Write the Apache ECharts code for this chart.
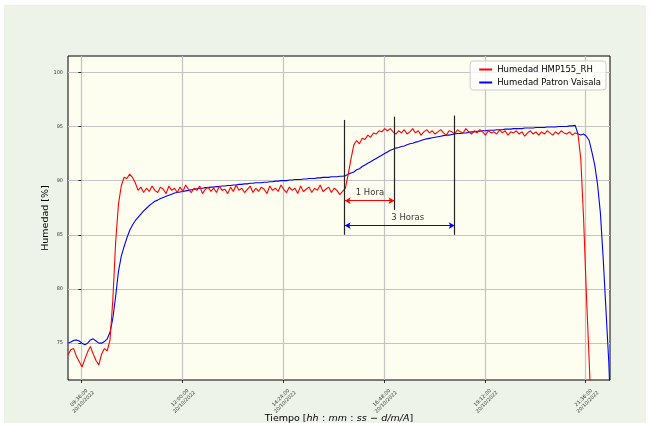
<!DOCTYPE html>
<html>
<head>
<meta charset="utf-8">
<script src="https://cdn.jsdelivr.net/npm/echarts@6/dist/echarts.min.js"></script>
<style>html,body{margin:0;padding:0;background:#ffffff;}#c{width:650px;height:423px;}</style>
</head>
<body>
<div id="c"></div>
<script>
// minutes relative to 09:36:00 (20/10/2022)
const timeMin = [
-19,-15,-11,-7,-3,1,5,9,13,17,
21,25,29,33,37,41,45,49,53,57,
61,65,69,73,77,81,85,89,93,97,
101,105,109,113,117,121,125,129,133,137,
141,145,149,153,157,161,165,169,173,177,
181,185,189,193,197,201,205,209,213,217,
221,225,229,233,237,241,245,249,253,257,
261,265,269,273,277,281,285,289,293,297,
301,305,309,313,317,321,325,329,333,337,
341,345,349,353,357,361,365,369,373,377,
381,385,389,393,397,401,405,409,413,417,
421,425,429,433,437,441,445,449,453,457,
461,465,469,473,477,481,485,489,493,497,
501,505,509,513,517,521,525,529,533,537,
541,545,549,553,557,561,565,569,573,577,
581,585,589,593,597,601,605,609,613,617,
621,625,629,633,637,641,645,649,653,657,
661,665,669,673,677,681,685,689,693,697,
701,705,709,713,717,721,725,729,733,737,
741,745,749,753,757
];
const humHMP = [
73.9,74.4,74.5,73.8,73.3,72.8,73.5,74.2,74.7,74.0,
73.4,73.0,74.0,74.5,74.3,75.3,79.0,84.3,87.8,89.5,
90.3,90.2,90.6,90.3,89.8,89.1,89.4,88.9,89.3,89.0,
89.5,89.1,88.9,89.4,89.2,88.8,89.5,89.1,89.3,88.9,
89.4,89.0,89.6,89.2,88.9,89.3,89.1,89.5,88.8,89.2,
89.4,89.0,89.3,88.9,89.5,89.1,89.2,88.8,89.4,89.0,
89.6,89.1,89.3,88.9,89.2,89.5,88.9,89.3,89.0,89.4,
89.2,88.8,89.5,89.1,89.3,89.0,89.6,89.2,88.9,89.4,
89.1,89.3,88.8,89.5,89.0,89.2,89.4,88.9,89.3,89.1,
89.6,89.0,89.2,89.4,88.9,89.3,89.1,88.7,89.0,89.3,
90.6,92.0,93.3,93.7,93.4,93.9,93.8,94.2,94.0,94.4,
94.3,94.6,94.5,94.8,94.6,94.8,94.5,94.3,94.6,94.4,
94.7,94.3,94.5,94.8,94.4,94.6,94.2,94.5,94.7,94.4,
94.6,94.3,94.5,94.7,94.4,94.2,94.6,94.5,94.3,94.7,
94.5,94.4,94.8,94.5,94.3,94.6,94.4,94.7,94.5,94.2,
94.6,94.4,94.5,94.3,94.7,94.4,94.6,94.2,94.5,94.4,
94.6,94.3,94.5,94.1,94.4,94.6,94.3,94.5,94.2,94.5,
94.3,94.6,94.4,94.2,94.5,94.3,94.6,94.4,94.3,94.5,
94.2,94.4,94.3,92.0,86.5,79.5,73.3,67.0,null,null,
null,null,null,null,null
];
const humVaisala = [
75.0,75.1,75.25,75.3,75.2,75.0,74.85,75.0,75.3,75.4,
75.2,75.0,75.0,75.15,75.4,76.0,77.3,79.3,81.6,83.0,
83.9,84.7,85.4,85.9,86.3,86.6,86.9,87.2,87.45,87.7,
87.9,88.1,88.2,88.35,88.45,88.55,88.65,88.75,88.85,88.9,
88.95,89.0,89.05,89.1,89.15,89.2,89.25,89.3,89.3,89.35,
89.35,89.4,89.4,89.45,89.45,89.5,89.5,89.55,89.55,89.6,
89.6,89.65,89.65,89.7,89.7,89.75,89.75,89.8,89.8,89.8,
89.85,89.85,89.9,89.9,89.95,89.95,90.0,90.0,90.0,90.05,
90.05,90.1,90.1,90.1,90.15,90.15,90.2,90.2,90.2,90.25,
90.25,90.3,90.3,90.3,90.35,90.35,90.35,90.4,90.4,90.45,
90.6,90.7,90.8,91.0,91.1,91.3,91.45,91.6,91.75,91.9,
92.05,92.2,92.35,92.5,92.65,92.8,92.9,93.0,93.05,93.15,
93.2,93.3,93.4,93.45,93.55,93.6,93.7,93.8,93.85,93.9,
93.95,94.0,94.05,94.1,94.15,94.2,94.2,94.25,94.3,94.35,
94.35,94.4,94.4,94.45,94.5,94.5,94.55,94.55,94.6,94.6,
94.65,94.65,94.65,94.7,94.7,94.7,94.75,94.75,94.75,94.8,
94.8,94.8,94.8,94.85,94.85,94.85,94.85,94.9,94.9,94.9,
94.9,94.95,94.95,94.95,94.95,95.0,95.0,95.0,95.0,95.05,
95.05,95.1,94.3,94.2,94.3,94.1,93.7,92.6,91.4,89.6,
87.0,82.8,78.0,73.2,66.4
];
const xTickValues = [0,144,288,432,576,720];
const xTickLabels = ['09:36:00\n20/10/2022','12:00:00\n20/10/2022','14:24:00\n20/10/2022','16:48:00\n20/10/2022','19:12:00\n20/10/2022','21:36:00\n20/10/2022'];
const yTickValues = [75,80,85,90,95,100];
// annotation geometry in data units
const vLineX = [376,447,533];
const vLineTop = [95.6,95.9,96.0];
const vLineBottom = [85.0,87.3,85.0];
const arrow1h = [376,447,88.15];
const arrow3h = [376,533,85.85];
const annText = ['1 Hora','3 Horas'];
const annTextX = [412,466];
const annTextY = [88.87,86.56];

const F = 'DejaVu Sans';
const chart = echarts.init(document.getElementById('c'));
const redData = timeMin.map((t,i)=>[t,humHMP[i]]);
const blueData = timeMin.map((t,i)=>[t,humVaisala[i]]);
const vLines = vLineX.map((x,i)=>[{coord:[x,vLineTop[i]]},{coord:[x,vLineBottom[i]]}]);

chart.setOption({
  animation:false,
  backgroundColor:'#ffffff',
  graphic:[{type:'rect',z:-100,silent:true,shape:{x:4,y:5,width:642,height:418},style:{fill:'#eef3ea'}}],
  grid:{left:68,right:40,top:56,bottom:43,outerBoundsMode:'none',containLabel:false,show:true,backgroundColor:'#fdfdf0',borderColor:'#000',borderWidth:1},
  legend:{
    data:['Humedad HMP155_RH','Humedad Patron Vaisala'],
    right:44,top:61,orient:'vertical',
    backgroundColor:'rgba(255,255,255,0.8)',borderColor:'#cccccc',borderWidth:1,borderRadius:3,
    padding:[4,5,3,9],itemGap:4,itemWidth:13,itemHeight:2,icon:'rect',
    textStyle:{fontSize:8.5,color:'#000',fontFamily:F}
  },
  xAxis:{
    type:'value',min:-19,max:754.7,
    name:'{n|Tiempo [}{i|hh} {n|:} {i|mm} {n|:} {i|ss} {n|−} {i|d/m/A}{n|]}',
    nameLocation:'middle',nameGap:33,nameMoveOverlap:false,
    nameTextStyle:{rich:{n:{fontSize:9.5,fontFamily:F,color:'#000'},i:{fontSize:9.5,fontFamily:F,fontStyle:'italic',color:'#000'}}},
    axisLine:{show:false},
    axisTick:{show:true,length:3,inside:false,customValues:xTickValues,lineStyle:{color:'#000',width:0.8}},
    axisLabel:{customValues:xTickValues,rotate:45,align:'center',verticalAlign:'middle',margin:20,
      fontSize:5,lineHeight:6,color:'#333',fontFamily:F,
      formatter:function(v){const k=xTickValues.indexOf(v);return k>=0?xTickLabels[k]:'';}},
    splitLine:{show:true,lineStyle:{color:'#c4c4c4',width:1.2}}
  },
  yAxis:{
    type:'value',min:71.6,max:101.5,
    name:'Humedad [%]',nameLocation:'middle',nameGap:17,nameRotate:90,nameMoveOverlap:false,
    nameTextStyle:{fontSize:9.5,fontFamily:F,color:'#000'},
    axisLine:{show:false},
    axisTick:{show:true,length:3,customValues:yTickValues,lineStyle:{color:'#000',width:0.8}},
    axisLabel:{customValues:yTickValues,fontSize:5,color:'#333',fontFamily:F,margin:5,
      formatter:function(v){return String(v);}},
    splitLine:{show:true,lineStyle:{color:'#c4c4c4',width:1.2}}
  },
  series:[
    {name:'Humedad HMP155_RH',type:'line',data:redData,showSymbol:false,symbol:'none',
     lineStyle:{color:'#ff0000',width:1.1},itemStyle:{color:'#ff0000'},clip:true,z:3,
     markLine:{silent:true,symbol:'none',label:{show:false},
       lineStyle:{color:'#222',width:1.2,type:'solid'},data:vLines}},
    {name:'Humedad Patron Vaisala',type:'line',data:blueData,showSymbol:false,symbol:'none',
     lineStyle:{color:'#0000ff',width:1.1},itemStyle:{color:'#0000ff'},clip:true,z:2},
    {name:'arrows',type:'line',data:[],silent:true,
     markLine:{silent:true,symbol:['arrow','arrow'],symbolSize:[5,6],label:{show:false},
       lineStyle:{type:'solid',width:1},
       data:[
         [{coord:[arrow1h[0],arrow1h[2]],lineStyle:{color:'#ff0000',width:1,type:'solid'}},{coord:[arrow1h[1],arrow1h[2]]}],
         [{coord:[arrow3h[0],arrow3h[2]],lineStyle:{color:'#0000ff',width:1,type:'solid'}},{coord:[arrow3h[1],arrow3h[2]]}]
       ]}},
    {name:'texts',type:'scatter',symbolSize:0,silent:true,
     data:annText.map((s,i)=>({value:[annTextX[i],annTextY[i]],name:s})),
     label:{show:true,position:'inside',formatter:p=>p.name,fontSize:8.5,fontFamily:F,color:'#000'}}
  ]
});
</script>
</body>
</html>
